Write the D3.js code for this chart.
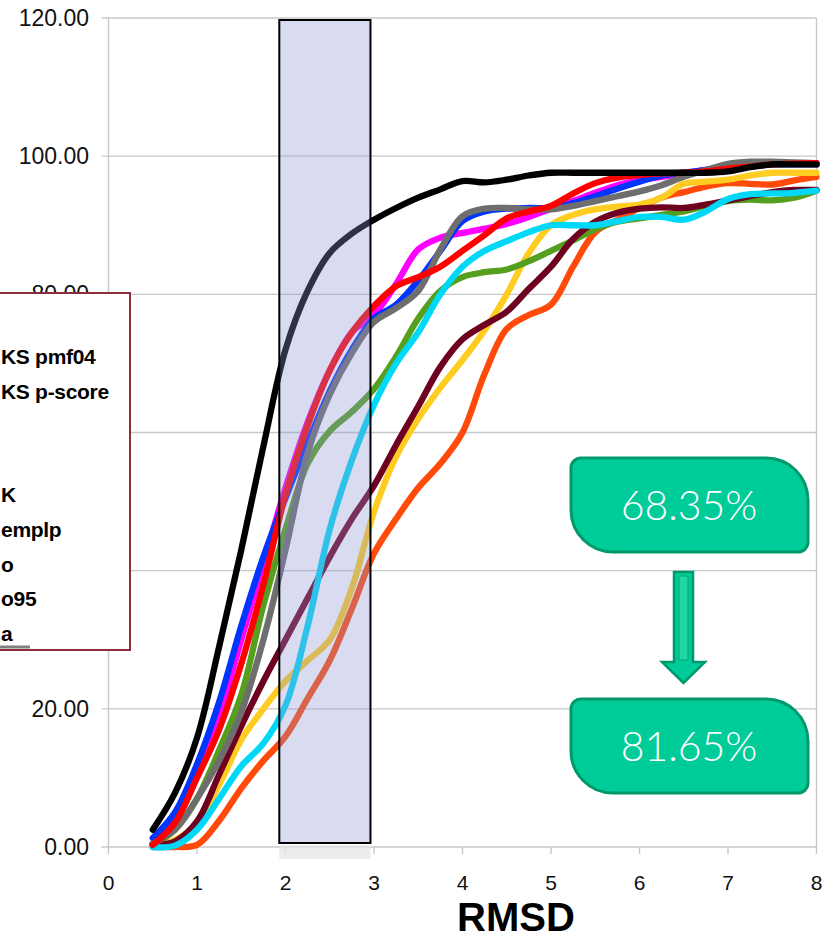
<!DOCTYPE html>
<html>
<head>
<meta charset="utf-8">
<script src="https://cdn.jsdelivr.net/npm/d3@7"></script>
<style>
  body { margin: 0; background: #fff; }
  svg { display: block; font-family: "Liberation Sans", Arial, sans-serif; }
</style>
</head>
<body>
<svg></svg>
<script>
// RMSD sample points (x axis)
const rmsd = [0.5, 0.75, 1.0, 1.25, 1.5, 1.75, 2.0, 2.25, 2.5, 2.75, 3.0, 3.25, 3.5, 3.75, 4.0, 4.25,
              4.5, 4.75, 5.0, 5.25, 5.5, 5.75, 6.0, 6.25, 6.5, 6.75, 7.0, 7.25, 7.5, 7.75, 8.0];

// success rate (%) per scoring function
const orangeVals  = [0, 0, 0.3, 3.8, 8.5, 12.5, 16, 21.5, 27, 34.5, 42.5, 47.5, 52, 55.5, 60, 68.5,
                     75, 77, 78.5, 84, 89, 90.8, 92.5, 94, 94.8, 95.6, 96.1, 96, 95.9, 96.5, 97];
const yellowVals  = [0.3, 1, 3.5, 9, 15.5, 20, 24, 27, 30, 37.5, 48.5, 56.5, 62, 66.5, 70.5, 74.8,
                     80, 86, 90, 91.5, 92.3, 92.7, 93, 94, 96, 96.3, 96.6, 97.2, 97.6, 97.6, 97.6];
const greenVals   = [0.3, 2.5, 7, 14, 22, 35, 46, 55.5, 60.2, 63, 66.3, 71, 76.5, 80.5, 82.5, 83.2,
                     83.6, 84.8, 86.3, 87.8, 89.4, 90.5, 91, 91.5, 92, 92.8, 93.5, 93.7, 93.6, 94, 95];
const maroonVals  = [0.3, 0.8, 3.7, 10.5, 17.5, 24, 30, 36, 42, 47.5, 52.3, 58.2, 63.8, 69.5, 73.5, 75.6,
                     77.5, 80.8, 84, 88, 90.5, 91.8, 92.4, 92.6, 92.5, 93, 93.6, 94.2, 94.8, 95.1, 95.1];
const cyanVals    = [0, 0.2, 2.5, 7, 11.7, 15, 20.5, 32, 46, 56, 64, 70, 74.5, 80, 84, 86.3,
                     87.7, 89, 90, 90, 90, 90.6, 91.2, 91.2, 90.8, 92, 93.8, 94.5, 94.6, 94.7, 95];
const magentaVals = [0.5, 4, 11, 19, 30, 41, 52, 61.5, 69, 74.5, 77, 81.5, 86.5, 88.2, 88.9, 89.5,
                     90.2, 91.2, 92.4, 93.5, 94.7, 95.8, 96.5, 97, 97.5, 98, 98.5, 98.8, 99, 99, 99];
const blueVals    = [1.3, 5, 12, 21, 32, 42, 50.5, 58.5, 66, 72, 76.5, 78.5, 82, 86.3, 90.6, 92,
                     92.4, 92.5, 92.5, 93.2, 94.2, 95.3, 96.3, 97.2, 97.6, 98, 98.4, 98.7, 98.8, 98.8, 98.8];
const grayVals    = [0.5, 2.5, 7, 12.5, 19.5, 30, 43, 57, 65.5, 71.5, 76, 78, 80.5, 86.5, 91.3, 92.4,
                     92.5, 92.3, 92.3, 92.8, 93.5, 94.2, 94.9, 95.8, 97, 98, 98.9, 99.2, 99.2, 99.1, 99];
const redVals     = [0.3, 3.5, 10, 17, 26.5, 38, 51, 61, 69, 74.5, 78.3, 81.2, 82.5, 84, 86.3, 88.6,
                     91, 92, 92.8, 94.6, 96.1, 96.9, 97.3, 97.5, 97.6, 97.8, 98.2, 98.5, 98.8, 98.9, 99];
const blackVals   = [2.5, 7.8, 15.8, 29, 43, 58, 72, 80.5, 86, 88.8, 90.8, 92.5, 94, 95.2, 96.4, 96.2,
                     96.6, 97.2, 97.6, 97.6, 97.6, 97.6, 97.6, 97.6, 97.6, 97.6, 97.8, 98.4, 98.8, 98.8, 98.8];

// drawing order, bottom to top
const seriesList = [
  { color: '#ff4a0a', vals: orangeVals },
  { color: '#ffcc22', vals: yellowVals },
  { color: '#559e1e', vals: greenVals },
  { color: '#6e0020', vals: maroonVals },
  { color: '#00d8f8', vals: cyanVals },
  { color: '#ff00ff', vals: magentaVals },
  { color: '#0035ff', vals: blueVals },
  { color: '#6e6e6e', vals: grayVals },
  { color: '#ff0000', vals: redVals },
  { color: '#000000', vals: blackVals }
];

const yTicks = [0, 20, 40, 60, 80, 100, 120];
const xTicks = [0, 1, 2, 3, 4, 5, 6, 7, 8];

// legend entries, box runs off the left edge so only the tails show
const legendLabels = [
  { text: 'KS pmf04', row: 0 },
  { text: 'KS p-score', row: 1 },
  { text: 'K', row: 4 },
  { text: 'emplp', row: 5 },
  { text: 'o', row: 6 },
  { text: 'o95', row: 7 },
  { text: 'a', row: 8 }
];

const highlightRange = [1.93, 2.96];
const callouts = ['68.35%', '81.65%'];

const width = 838, height = 940;
const svg = d3.select('svg').attr('width', width).attr('height', height);

const x = d3.scaleLinear().domain([0, 8]).range([108.5, 816.5]);
const y = d3.scaleLinear().domain([0, 120]).range([847, 18]);

// gridlines
svg.append('g')
  .selectAll('line')
  .data(yTicks)
  .join('line')
  .attr('x1', x(0) - 7).attr('x2', x(8))
  .attr('y1', d => y(d)).attr('y2', d => y(d))
  .attr('stroke', '#c8c8c8').attr('stroke-width', 1.4);

// y axis line + right border
svg.append('line').attr('x1', x(0)).attr('x2', x(0)).attr('y1', y(120)).attr('y2', y(0))
  .attr('stroke', '#c8c8c8').attr('stroke-width', 1.4);
svg.append('line').attr('x1', x(8)).attr('x2', x(8)).attr('y1', y(120)).attr('y2', y(0))
  .attr('stroke', '#c8c8c8').attr('stroke-width', 1.4);

// x ticks
svg.append('g')
  .selectAll('line')
  .data(xTicks)
  .join('line')
  .attr('x1', d => x(d)).attr('x2', d => x(d))
  .attr('y1', y(0)).attr('y2', y(0) + 7)
  .attr('stroke', '#c8c8c8').attr('stroke-width', 1.4);

// y labels
svg.append('g')
  .selectAll('text')
  .data(yTicks)
  .join('text')
  .attr('x', 89)
  .attr('y', d => y(d) + 8)
  .attr('text-anchor', 'end')
  .attr('font-size', 23)
  .attr('fill', '#111')
  .text(d => d3.format('.2f')(d));

// x labels
svg.append('g')
  .selectAll('text')
  .data(xTicks)
  .join('text')
  .attr('x', d => x(d))
  .attr('y', 890)
  .attr('text-anchor', 'middle')
  .attr('font-size', 21)
  .attr('fill', '#111')
  .text(d => d);

svg.append('text')
  .attr('x', 516).attr('y', 931)
  .attr('text-anchor', 'middle')
  .attr('font-size', 40)
  .attr('font-weight', 'bold')
  .attr('fill', '#000')
  .text('RMSD');

// curves
const line = d3.line()
  .x((d, i) => x(rmsd[i]))
  .y(d => y(d))
  .curve(d3.curveCatmullRom.alpha(0.5));

svg.append('g')
  .selectAll('path')
  .data(seriesList)
  .join('path')
  .attr('d', d => line(d.vals))
  .attr('fill', 'none')
  .attr('stroke', d => d.color)
  .attr('stroke-width', 6.3)
  .attr('stroke-linecap', 'round')
  .attr('stroke-linejoin', 'round');

// highlighted RMSD band
svg.append('rect')
  .attr('x', x(highlightRange[0])).attr('y', 845)
  .attr('width', x(highlightRange[1]) - x(highlightRange[0])).attr('height', 14)
  .attr('fill', '#e6e6e6').attr('opacity', 0.7);
svg.append('rect')
  .attr('x', x(highlightRange[0])).attr('y', 20)
  .attr('width', x(highlightRange[1]) - x(highlightRange[0])).attr('height', 823)
  .attr('fill', 'rgb(140,148,210)').attr('fill-opacity', 0.33)
  .attr('stroke', '#000').attr('stroke-width', 2);

// legend (cut off at left edge)
const legend = svg.append('g');
legend.append('rect')
  .attr('x', -10).attr('y', 293).attr('width', 140).attr('height', 357)
  .attr('fill', '#fff').attr('stroke', '#8b2d3a').attr('stroke-width', 2);
legend.append('line')
  .attr('x1', 0).attr('x2', 30).attr('y1', 647).attr('y2', 647)
  .attr('stroke', '#808080').attr('stroke-width', 3);
legend.selectAll('text')
  .data(legendLabels)
  .join('text')
  .attr('x', 1)
  .attr('y', d => 356 + d.row * 34.6 + 8)
  .attr('font-size', 21)
  .attr('font-weight', 'bold')
  .attr('letter-spacing', -0.3)
  .attr('fill', '#000')
  .text(d => d.text);

// callouts
function calloutPath(x0, y0, w, h) {
  const r = 10, R = 42;
  return `M${x0 + r},${y0} H${x0 + w - R} A${R},${R} 0 0 1 ${x0 + w},${y0 + R} V${y0 + h - r}` +
         ` A${r},${r} 0 0 1 ${x0 + w - r},${y0 + h} H${x0 + R} A${R},${R} 0 0 1 ${x0},${y0 + h - R}` +
         ` V${y0 + r} A${r},${r} 0 0 1 ${x0 + r},${y0} Z`;
}
const boxTops = [458, 699];
const cg = svg.append('g');
cg.selectAll('path.box')
  .data(callouts)
  .join('path')
  .attr('class', 'box')
  .attr('d', (d, i) => calloutPath(571, boxTops[i], 237, 94))
  .attr('fill', '#00cc99').attr('stroke', '#00996c').attr('stroke-width', 3);
cg.selectAll('text')
  .data(callouts)
  .join('text')
  .attr('x', 689)
  .attr('y', (d, i) => boxTops[i] + 62)
  .attr('text-anchor', 'middle')
  .attr('font-family', 'Lato, "Open Sans", sans-serif')
  .attr('font-weight', 300)
  .attr('font-size', 41)
  .attr('fill', '#fff')
  .text(d => d);

cg.append('path')
  .attr('d', 'M674,572 H693 V662 H705 L683.5,683 L662,662 H674 Z')
  .attr('fill', '#00cc99').attr('stroke', '#00996c').attr('stroke-width', 2.5)
  .attr('stroke-linejoin', 'miter');
cg.append('rect')
  .attr('x', 679).attr('y', 576).attr('width', 9).attr('height', 84)
  .attr('fill', '#22d6a6').attr('stroke', '#00a877').attr('stroke-width', 1);
</script>
</body>
</html>
